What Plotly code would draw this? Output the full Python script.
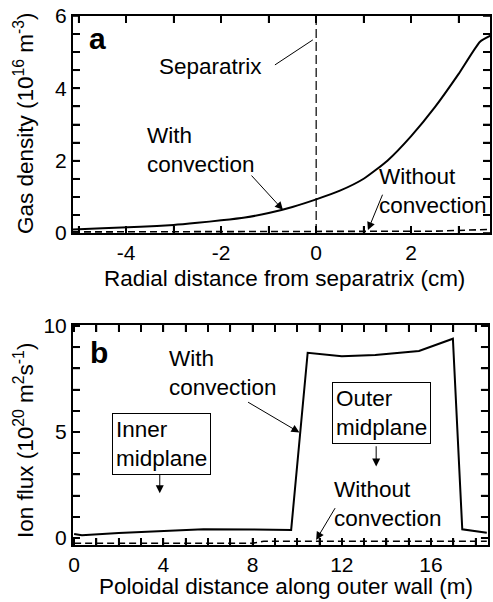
import plotly.graph_objects as go

# ---------------- data ----------------
# Panel a: gas density vs radial distance
radial_x = [-5.12, -4.5, -3.7, -3.0, -2.5, -2.0, -1.5, -1.0, -0.5, 0.0, 0.5, 1.0,
            1.5, 2.0, 2.5, 3.0, 3.45, 3.69]
dens_with = [0.10, 0.13, 0.17, 0.22, 0.28, 0.35, 0.43, 0.55, 0.72, 0.93, 1.17, 1.50,
             2.00, 2.68, 3.48, 4.40, 5.29, 5.47]
radial_x_nc = [-5.12, -3.0, -1.0, 1.0, 2.5, 3.2, 3.69]
dens_without = [0.03, 0.03, 0.03, 0.04, 0.05, 0.08, 0.10]
separatrix_x = 0.0

# Panel b: ion flux vs poloidal distance
pol_x = [0.0, 0.35, 2.0, 3.84, 5.8, 8.0, 9.73, 10.47, 12.0, 13.5, 15.46, 16.98, 17.4, 18.5]
flux_with = [0.19, 0.13, 0.24, 0.33, 0.41, 0.40, 0.38, 8.74, 8.58, 8.64, 8.82, 9.40, 0.41, 0.25]
pol_x_nc = [0.0, 4.0, 8.0, 8.5, 12.0, 16.0, 18.5]
flux_without = [-0.25, -0.25, -0.25, -0.15, -0.15, -0.15, -0.15]

# ticks
a_xticks = [-5, -4, -3, -2, -1, 0, 1, 2, 3]
a_xlabels = [" ", "-4", " ", "-2", " ", "0", " ", "2", " "]
a_yticks = [0, 0.5, 1, 1.5, 2, 2.5, 3, 3.5, 4, 4.5, 5, 5.5, 6]
a_ylabels = ["0", " ", " ", " ", "2", " ", " ", " ", "4", " ", " ", " ", "6"]
b_xticks = list(range(0, 19))
b_xlabels = [str(v) if v % 4 == 0 else " " for v in b_xticks]
b_yticks = list(range(0, 11))
b_ylabels = [str(v) if v % 5 == 0 else " " for v in b_yticks]

FONT = "Liberation Sans, Arial, Helvetica, sans-serif"
BLACK = "black"
TXT = 22.5
TICK = 21
TICKLEN = 7

fig = go.Figure()

# panel a traces
fig.add_trace(go.Scatter(x=radial_x, y=dens_with, mode="lines", xaxis="x", yaxis="y",
                         line=dict(color=BLACK, width=2, shape="spline", smoothing=0.5),
                         showlegend=False))
fig.add_trace(go.Scatter(x=radial_x_nc, y=dens_without, mode="lines", xaxis="x", yaxis="y",
                         line=dict(color=BLACK, width=1.6, dash="7px,4px"), showlegend=False))
fig.add_trace(go.Scatter(x=[separatrix_x, separatrix_x], y=[a_yticks[0], a_yticks[-1]], mode="lines",
                         xaxis="x", yaxis="y",
                         line=dict(color=BLACK, width=1.2, dash="9px,4px"), showlegend=False))

# panel b traces
fig.add_trace(go.Scatter(x=pol_x, y=flux_with, mode="lines", xaxis="x2", yaxis="y2",
                         line=dict(color=BLACK, width=2), showlegend=False))
fig.add_trace(go.Scatter(x=pol_x_nc, y=flux_without, mode="lines", xaxis="x2", yaxis="y2",
                         line=dict(color=BLACK, width=1.6, dash="7px,4px"), showlegend=False))


def axis_style(**kw):
    d = dict(showline=True, linecolor=BLACK, linewidth=2, mirror="ticks",
             ticks="inside", ticklen=TICKLEN, tickwidth=1.6, tickcolor=BLACK,
             showgrid=False, zeroline=False,
             tickfont=dict(family=FONT, size=TICK, color=BLACK))
    d.update(kw)
    return d


fig.update_layout(
    template="none",
    width=493, height=602,
    margin=dict(l=73, r=3, t=16, b=57),
    paper_bgcolor="white", plot_bgcolor="white",
    font=dict(family=FONT, size=TXT, color=BLACK),
)
fig.update_layout(
    xaxis=axis_style(domain=[0, 1], range=[-5.12, 3.66], anchor="y",
                     tickvals=a_xticks, ticktext=a_xlabels),
    yaxis=axis_style(domain=[0.5898, 1.0], range=[0, 6], anchor="x",
                     tickvals=a_yticks, ticktext=a_ylabels),
    xaxis2=axis_style(domain=[0, 0.995], range=[-0.05, 18.55], anchor="y2",
                      tickvals=b_xticks, ticktext=b_xlabels),
    yaxis2=axis_style(domain=[0, 0.4159], range=[-0.33, 10.05], anchor="x2",
                      tickvals=b_yticks, ticktext=b_ylabels),
)

# explicit inside tick marks on all four sides (drawn from the tick lists)
shapes = []
tick_line = dict(color=BLACK, width=1.6)
for xr, yr, xt in (("x", "y", a_xticks), ("x2", "y2", b_xticks)):
    for v in xt:
        for anchor_pos, length in ((0, TICKLEN), (1, -TICKLEN)):
            shapes.append(dict(type="line", xref=xr, yref=yr + " domain", x0=v, x1=v,
                               ysizemode="pixel", yanchor=anchor_pos, y0=0, y1=length,
                               line=tick_line, layer="above"))
for xr, yr, yt in (("x", "y", a_yticks), ("x2", "y2", b_yticks)):
    for v in yt:
        for anchor_pos, length in ((0, TICKLEN), (1, -TICKLEN)):
            shapes.append(dict(type="line", xref=xr + " domain", yref=yr, y0=v, y1=v,
                               xsizemode="pixel", xanchor=anchor_pos, x0=0, x1=length,
                               line=tick_line, layer="above"))
fig.update_layout(shapes=shapes)

ann = []
tf = dict(family=FONT, size=TXT, color=BLACK)
# axis titles
ann.append(dict(text="Radial distance from separatrix (cm)", xref="paper", yref="paper",
                x=0.508, y=0.503, xanchor="center", yanchor="middle", showarrow=False, font=tf))
ann.append(dict(text="Poloidal distance along outer wall (m)", xref="paper", yref="paper",
                x=0.511, y=-0.079, xanchor="center", yanchor="middle", showarrow=False, font=tf))
ann.append(dict(text="Gas density (10<sup>16</sup> m<sup>-3</sup>)", xref="paper", yref="paper",
                x=(24 - 73) / 417, y=(545 - 123) / 529, xanchor="center", yanchor="middle",
                textangle=-90, showarrow=False, font=tf))
ann.append(dict(text="Ion flux (10<sup>20</sup> m<sup>2</sup>s<sup>-1</sup>)", xref="paper", yref="paper",
                x=(24 - 73) / 417, y=(545 - 441) / 529, xanchor="center", yanchor="middle",
                textangle=-90, showarrow=False, font=tf))
# panel labels
bold = dict(family=FONT, size=30, color=BLACK)
ann.append(dict(text="<b>a</b>", xref="x", yref="y", x=-4.61, y=5.39, xanchor="center",
                yanchor="middle", showarrow=False, font=bold))
ann.append(dict(text="<b>b</b>", xref="x2", yref="y2", x=1.1, y=8.75, xanchor="center",
                yanchor="middle", showarrow=False, font=bold))

# panel a text labels
ann.append(dict(text="Separatrix", xref="x", yref="y", x=-2.22, y=4.6, xanchor="center",
                yanchor="middle", showarrow=False, font=tf))
ann.append(dict(text="With<br>convection", xref="x", yref="y", x=-3.60, y=2.29, xanchor="left",
                yanchor="middle", align="left", showarrow=False, font=tf))
ann.append(dict(text="Without<br>convection", xref="x", yref="y", x=1.28, y=1.15, xanchor="left",
                yanchor="middle", align="left", showarrow=False, font=tf))
# panel a pointers
ann.append(dict(text="", xref="x", yref="y", axref="x", ayref="y", x=-0.07, y=5.34, ax=-0.9, ay=4.62,
                showarrow=True, arrowhead=0, arrowwidth=1, arrowcolor=BLACK))
ann.append(dict(text="", xref="x", yref="y", axref="x", ayref="y", x=-0.70, y=0.64, ax=-1.39, ay=1.63,
                showarrow=True, arrowhead=2, arrowsize=1.6, arrowwidth=1, arrowcolor=BLACK))
ann.append(dict(text="", xref="x", yref="y", axref="x", ayref="y", x=1.09, y=0.08, ax=1.41, ay=1.1,
                showarrow=True, arrowhead=2, arrowsize=1.6, arrowwidth=1, arrowcolor=BLACK))

# panel b text labels
ann.append(dict(text="With<br>convection", xref="x2", yref="y2", x=4.15, y=7.77, xanchor="left",
                yanchor="middle", align="left", showarrow=False, font=tf))
ann.append(dict(text="Without<br>convection", xref="x2", yref="y2", x=11.58, y=1.61, xanchor="left",
                yanchor="middle", align="left", showarrow=False, font=tf))
ann.append(dict(text="Outer<br>midplane", xref="x2", yref="y2", x=13.76, y=5.89, xanchor="center",
                yanchor="middle", align="left", showarrow=False, font=tf,
                bordercolor=BLACK, borderwidth=1, borderpad=3))
ann.append(dict(text="Inner<br>midplane", xref="x2", yref="y2", x=3.93, y=4.44, xanchor="center",
                yanchor="middle", align="left", showarrow=False, font=tf,
                bordercolor=BLACK, borderwidth=1, borderpad=3))
# panel b pointers
ann.append(dict(text="", xref="x2", yref="y2", axref="x2", ayref="y2", x=10.1, y=4.98, ax=7.73, ay=6.45,
                showarrow=True, arrowhead=2, arrowsize=1.6, arrowwidth=1, arrowcolor=BLACK))
ann.append(dict(text="", xref="x2", yref="y2", axref="x2", ayref="y2", x=13.54, y=3.37, ax=13.54, ay=4.4,
                showarrow=True, arrowhead=2, arrowsize=1.6, arrowwidth=1, arrowcolor=BLACK))
ann.append(dict(text="", xref="x2", yref="y2", axref="x2", ayref="y2", x=3.84, y=2.11, ax=3.84, ay=3.06,
                showarrow=True, arrowhead=2, arrowsize=1.6, arrowwidth=1, arrowcolor=BLACK))
ann.append(dict(text="", xref="x2", yref="y2", axref="x2", ayref="y2", x=10.85, y=-0.09, ax=11.74, ay=1.48,
                showarrow=True, arrowhead=2, arrowsize=1.6, arrowwidth=1, arrowcolor=BLACK))

fig.update_layout(annotations=ann)
fig.write_html("out.html")
